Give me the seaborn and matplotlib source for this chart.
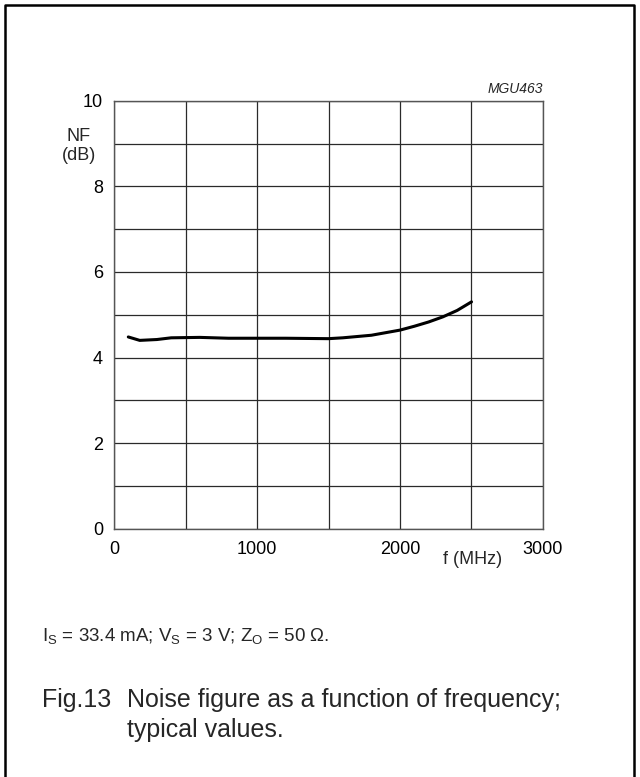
import matplotlib
matplotlib.use("Agg")
import matplotlib.pyplot as plt
from matplotlib.lines import Line2D
import numpy as np
import pandas as pd
import seaborn as sns

# noise figure curve
freq_mhz = [100, 180, 300, 400, 600, 800, 1000, 1200, 1500, 1600, 1800, 2000, 2100, 2200, 2300, 2400, 2500]
nf_db = [4.48, 4.40, 4.42, 4.46, 4.47, 4.45, 4.45, 4.45, 4.44, 4.46, 4.52, 4.64, 4.73, 4.83, 4.95, 5.10, 5.30]

x_ticks = [0, 1000, 2000, 3000]
y_ticks = [0, 2, 4, 6, 8, 10]

df = pd.DataFrame({"f": freq_mhz, "nf": nf_db})

sns.set_style("white")
plt.rcParams["font.family"] = ["Liberation Sans", "DejaVu Sans"]
plt.rcParams["mathtext.fontset"] = "custom"
plt.rcParams["mathtext.rm"] = "Liberation Sans"
plt.rcParams["mathtext.it"] = "Liberation Sans"
plt.rcParams["mathtext.default"] = "regular"

W, H = 640, 777
fig = plt.figure(figsize=(W / 100, H / 100), dpi=100)
ax = fig.add_axes([114 / W, 1 - 528.7 / H, (543 - 114) / W, (528.7 - 100.7) / H])

sns.lineplot(data=df, x="f", y="nf", ax=ax, color="black", linewidth=2.2)

ax.set_xlim(0, 3000)
ax.set_ylim(0, 10)
ax.set_xticks(x_ticks)
ax.set_xticks(np.arange(0, 3001, 500), minor=True)
ax.set_yticks(y_ticks)
ax.set_yticks(np.arange(0, 11, 1), minor=True)
ax.set_xticklabels([str(v) for v in x_ticks])
ax.set_yticklabels([str(v) for v in y_ticks])
ax.tick_params(which="both", length=0, labelsize=13, colors="black")
ax.tick_params(axis="y", pad=8)
ax.tick_params(axis="x", pad=8.5)
ax.grid(which="both", color="#2a2a2a", linewidth=0.9)
ax.set_axisbelow(True)
for s in ax.spines.values():
    s.set_color("#555555")
    s.set_linewidth(1.0)
ax.set_xlabel("")
ax.set_ylabel("")

# labels around the axes
fig.text(79 / W, 1 - 146 / H, "NF\n(dB)", ha="center", va="center", fontsize=13, multialignment="center")
fig.text(473 / W, 1 - 560 / H, "f (MHz)", ha="center", va="center", fontsize=13)
fig.text(543 / W, 1 - 93 / H, "MGU463", ha="right", va="baseline", fontsize=10, style="italic")

# captions
fig.text(42 / W, 1 - 641 / H, r"$I_S$ = 33.4 mA; $V_S$ = 3 V; $Z_O$ = 50 Ω.", ha="left", va="baseline", fontsize=13.5)
fig.text(42 / W, 1 - 707 / H, "Fig.13", ha="left", va="baseline", fontsize=18)
fig.text(127 / W, 1 - 707 / H, "Noise figure as a function of frequency;", ha="left", va="baseline", fontsize=18)
fig.text(127 / W, 1 - 737 / H, "typical values.", ha="left", va="baseline", fontsize=18)

# outer frame, open at the bottom
fig.add_artist(Line2D([5 / W, 5 / W, 634 / W, 634 / W], [0, 1 - 5 / H, 1 - 5 / H, 0],
                      transform=fig.transFigure, color="black", linewidth=1.8))

fig.savefig("out.png", dpi=100)
